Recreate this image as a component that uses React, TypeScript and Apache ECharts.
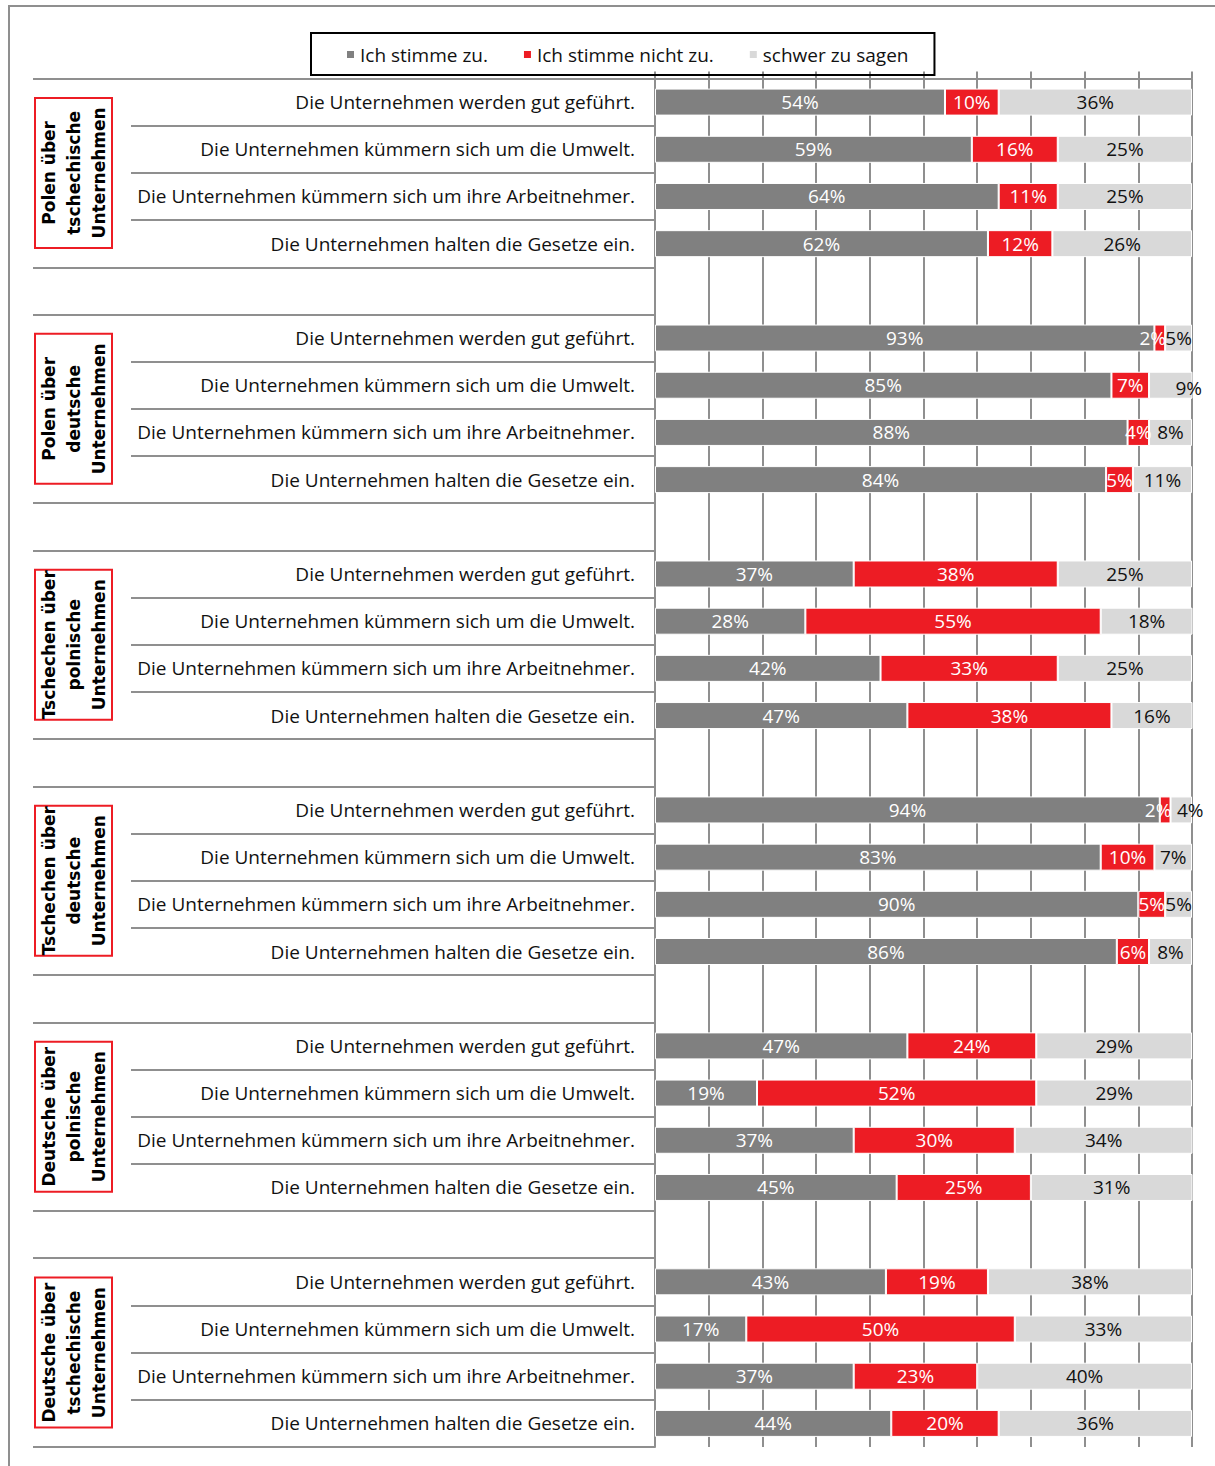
import React, { useEffect, useRef } from "react";
import * as echarts from "echarts";

const statements = [
  "Die Unternehmen werden gut geführt.",
  "Die Unternehmen kümmern sich um die Umwelt.",
  "Die Unternehmen kümmern sich um ihre Arbeitnehmer.",
  "Die Unternehmen halten die Gesetze ein.",
];

const groups = [
  "Polen über\ntschechische\nUnternehmen",
  "Polen über\ndeutsche\nUnternehmen",
  "Tschechen über\npolnische\nUnternehmen",
  "Tschechen über\ndeutsche\nUnternehmen",
  "Deutsche über\npolnische\nUnternehmen",
  "Deutsche über\ntschechische\nUnternehmen",
];

const seriesNames = ["Ich stimme zu.", "Ich stimme nicht zu.", "schwer zu sagen"];

// per group, per statement
const agree = [
  [54, 59, 64, 62],
  [93, 85, 88, 84],
  [37, 28, 42, 47],
  [94, 83, 90, 86],
  [47, 19, 37, 45],
  [43, 17, 37, 44],
];
const disagree = [
  [10, 16, 11, 12],
  [2, 7, 4, 5],
  [38, 55, 33, 38],
  [2, 10, 5, 6],
  [24, 52, 30, 25],
  [19, 50, 23, 20],
];
const unsure = [
  [36, 25, 25, 26],
  [5, 9, 8, 11],
  [25, 18, 25, 16],
  [4, 7, 5, 8],
  [29, 29, 34, 31],
  [38, 33, 40, 36],
];

// label nudges (style only), keyed "series:group:statement"
const labelOffsets: Record<string, [number, number]> = {
  "1:1:0": [-7, 0],
  "1:3:0": [-7, 0],
  "2:1:1": [18, 3],
  "2:3:0": [9, 0],
};

const FONT = "Open Sans";
const GRID_COLOR = "#8f8f8f";

function buildRows() {
  const cats: string[] = [];
  const cols: any[][] = [[], [], []];
  const sources = [agree, disagree, unsure];
  groups.forEach((_, g) => {
    statements.forEach((s, i) => {
      cats.push(s);
      sources.forEach((src, k) => {
        const off = labelOffsets[`${k}:${g}:${i}`];
        cols[k].push(off ? { value: src[g][i], label: { offset: off } } : src[g][i]);
      });
    });
    if (g < groups.length - 1) {
      cats.push("");
      cols.forEach((c) => c.push("-"));
    }
  });
  return { cats, cols };
}

export default function App() {
  const ref = useRef<HTMLDivElement>(null);
  useEffect(() => {
    if (!ref.current) return;
    const chart = echarts.init(ref.current, undefined, { renderer: "svg" });
    const { cats, cols } = buildRows();
    const n = cats.length;
    const longTicks: number[] = [];
    const shortTicks: number[] = [];
    for (let k = 0; k <= n; k++) {
      const m = k % 5;
      if (m === 0 || m === 4 || k === n) longTicks.push(k);
      else shortTicks.push(k);
    }
    const groupCenters = groups.map((_, g) => g * 5 + 2);

    const labelBase = {
      show: true,
      position: "inside",
      formatter: "{c}%",
      fontFamily: FONT,
      fontSize: 19,
    };
    const mkSeries = (name: string, data: any[], color: string, textColor: string) => ({
      name,
      type: "bar",
      stack: "total",
      yAxisIndex: 0,
      data,
      barWidth: 27,
      itemStyle: { color, borderColor: "#ffffff", borderWidth: 1 },
      label: { ...labelBase, color: textColor },
      emphasis: { disabled: true },
    });

    const tickAxis = (values: number[], length: number) => ({
      type: "value",
      min: 0,
      max: n,
      inverse: true,
      position: "left",
      axisLine: { show: false },
      splitLine: { show: false },
      axisLabel: { show: false },
      axisTick: {
        show: true,
        customValues: values,
        length,
        lineStyle: { color: GRID_COLOR, width: 2 },
      },
    });

    chart.setOption({
      animation: false,
      graphic: [
        {
          type: "rect",
          shape: { x: 9, y: 6, width: 1260, height: 1520 },
          style: { fill: "none", stroke: GRID_COLOR, lineWidth: 2 },
          silent: true,
        },
      ],
      legend: {
        data: seriesNames,
        top: 33,
        left: 311,
        icon: "rect",
        itemWidth: 9,
        itemHeight: 9,
        itemGap: 34,
        padding: [12, 26, 11, 34],
        borderColor: "#000",
        borderWidth: 2,
        textStyle: { fontFamily: FONT, fontSize: 19, color: "#111" },
        selectedMode: false,
      },
      grid: {
        left: 655,
        right: 23,
        top: 78.5,
        bottom: 19,
        containLabel: false,
        outerBoundsMode: "none",
      },
      xAxis: {
        type: "value",
        min: 0,
        max: 100,
        interval: 10,
        position: "top",
        axisLine: { show: true, lineStyle: { color: GRID_COLOR, width: 2 } },
        axisTick: { show: true, length: 7, lineStyle: { color: GRID_COLOR, width: 2 } },
        axisLabel: { show: false },
        splitLine: { show: true, lineStyle: { color: GRID_COLOR, width: 2 } },
      },
      yAxis: [
        {
          type: "category",
          data: cats,
          inverse: true,
          position: "left",
          axisLine: { show: true, lineStyle: { color: GRID_COLOR, width: 2 } },
          axisTick: { show: false },
          axisLabel: {
            interval: 0,
            margin: 20,
            fontFamily: FONT,
            fontSize: 19,
            color: "#111",
          },
        },
        tickAxis(longTicks, 622),
        tickAxis(shortTicks, 524),
        {
          type: "value",
          min: 0,
          max: n,
          inverse: true,
          position: "left",
          axisLine: { show: false },
          splitLine: { show: false },
          axisTick: { show: false },
          axisLabel: {
            show: true,
            customValues: groupCenters,
            formatter: (v: number) => groups[Math.round((v - 2) / 5)] ?? "",
            rotate: 90,
            margin: 543,
            align: "center",
            verticalAlign: "bottom",
            fontFamily: "DejaVu Sans",
            fontWeight: "bold",
            fontSize: 17,
            lineHeight: 25,
            color: "#000",
            borderColor: "#ED1C24",
            borderWidth: 2,
            width: 134,
            padding: [1, 8, 1, 8],
          },
        },
      ],
      series: [
        mkSeries(seriesNames[0], cols[0], "#808080", "#ffffff"),
        mkSeries(seriesNames[1], cols[1], "#ED1C24", "#ffffff"),
        mkSeries(seriesNames[2], cols[2], "#D9D9D9", "#111111"),
      ],
    });
    return () => chart.dispose();
  }, []);
  return (
    <div
      ref={ref}
      style={{ position: "absolute", left: 0, top: 0, width: 1215, height: 1466 }}
    />
  );
}
